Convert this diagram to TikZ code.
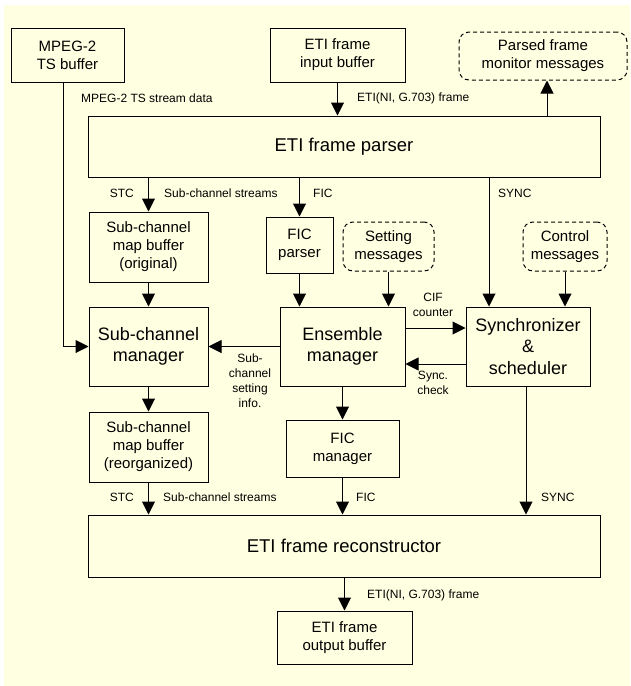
\documentclass[tikz,border=0pt]{standalone}
\usepackage{fontspec}
\setmainfont{Liberation Sans}
\usetikzlibrary{arrows.meta}
\definecolor{bgyellow}{RGB}{255,255,226}
\begin{document}
\begin{tikzpicture}[x=1pt,y=-1pt,
  blk/.style={draw, line width=1pt, inner sep=0pt, align=center, font=\fontsize{15}{18}\selectfont},
  bigblk/.style={blk, font=\fontsize{18}{21.5}\selectfont},
  hugeblk/.style={blk, font=\fontsize{18.5}{22}\selectfont},
  dbox/.style={blk, dash pattern=on 4pt off 3pt, rounded corners=10pt},
  lbl/.style={inner sep=0pt, align=center, font=\fontsize{12}{15}\selectfont},
  arr/.style={line width=1pt, -{Triangle[length=13pt,width=13pt]}},
  ln/.style={line width=1pt}]
\useasboundingbox (0,0) rectangle (630,686);
\fill[white] (0,0) rectangle (630,686);
\fill[bgyellow] (4,5) rectangle (630,686);

% nodes
\node[blk, minimum width=113pt, minimum height=54pt] (mpeg) at (67.5,55) {MPEG-2\\TS buffer};
\node[blk, minimum width=135pt, minimum height=54pt] (etiin) at (337.5,55) {ETI frame\\input buffer};
\node[dbox, minimum width=168pt, minimum height=48pt] (parsed) at (543,56) {Parsed frame\\monitor messages};
\node[hugeblk, minimum width=512pt, minimum height=61pt] (parser) at (344,146.5) {ETI frame parser};
\node[blk, minimum width=119pt, minimum height=70pt] (smbo) at (148.5,247) {Sub-channel\\map buffer\\(original)};
\node[blk, minimum width=67pt, minimum height=56pt] (ficp) at (299.5,245) {FIC\\parser};
\node[dbox, minimum width=91pt, minimum height=49pt] (setmsg) at (388.5,246.5) {Setting\\messages};
\node[dbox, minimum width=84pt, minimum height=49pt] (ctrlmsg) at (565,246.5) {Control\\messages};
\node[bigblk, minimum width=119pt, minimum height=79pt] (scm) at (148.5,346.5) {Sub-channel\\manager};
\node[bigblk, minimum width=125pt, minimum height=79pt] (ens) at (342.5,346.5) {Ensemble\\manager};
\node[bigblk, minimum width=124pt, minimum height=79pt] (sync) at (528,346.5) {Synchronizer\\\&\\scheduler};
\node[blk, minimum width=119pt, minimum height=70pt] (smbr) at (148.5,447) {Sub-channel\\map buffer\\(reorganized)};
\node[blk, minimum width=113pt, minimum height=57pt] (ficm) at (342.5,448.5) {FIC\\manager};
\node[hugeblk, minimum width=512pt, minimum height=62pt] (recon) at (344,546) {ETI frame reconstructor};
\node[blk, minimum width=135pt, minimum height=53pt] (etiout) at (344.5,637.5) {ETI frame\\output buffer};

% connectors
\draw[arr] ([xshift=-4.5pt]mpeg.south) |- (scm.west);
\draw[arr] (etiin.south) -- (etiin.south |- parser.north);
\draw[arr] ([xshift=4pt]parsed.south |- parser.north) -- ([xshift=4pt]parsed.south);
\draw[arr] (smbo.north |- parser.south) -- (smbo.north);
\draw[arr] (ficp.north |- parser.south) -- (ficp.north);
\draw[arr] ([xshift=-39pt]sync.north |- parser.south) -- ([xshift=-39pt]sync.north);
\draw[arr] (smbo.south) -- (scm.north);
\draw[arr] (ficp.south) -- (ficp.south |- ens.north);
\draw[arr] (setmsg.south) -- (setmsg.south |- ens.north);
\draw[arr] (ctrlmsg.south) -- (ctrlmsg.south |- sync.north);
\draw[arr] ([yshift=18.5pt]ens.east) -- ([yshift=18.5pt]ens.east -| sync.west);
\draw[arr] ([yshift=-17.5pt]sync.west) -- ([yshift=-17.5pt]sync.west -| ens.east);
\draw[arr] (ens.west) -- (scm.east);
\draw[arr] (scm.south) -- (smbr.north);
\draw[arr] (smbr.south) -- (smbr.south |- recon.north);
\draw[arr] (ens.south) -- (ficm.north);
\draw[arr] (ficm.south) -- (ficm.south |- recon.north);
\draw[arr] ([xshift=-2pt]sync.south) -- ([xshift=-2pt]sync.south |- recon.north);
\draw[arr] (recon.south -| etiout.north) -- (etiout.north);

% labels
\node[lbl, anchor=west] (l1) at (81,98) {MPEG-2 TS stream data};
\node[lbl, anchor=west] (l2) at (357,98) {ETI(NI, G.703) frame};
\node[lbl, anchor=east] (l3) at (134,193) {STC};
\node[lbl, anchor=west] (l4) at (164,193) {Sub-channel streams};
\node[lbl, anchor=west] (l5) at (313,193) {FIC};
\node[lbl, anchor=west] (l6) at (498,193) {SYNC};
\node[lbl] (l7) at (433,305) {CIF\\counter};
\node[lbl] (l8) at (433,383) {Sync.\\check};
\node[lbl] (l9) at (250,380.5) {Sub-\\channel\\setting\\info.};
\node[lbl, anchor=east] (l10) at (134,497) {STC};
\node[lbl, anchor=west] (l11) at (163,497) {Sub-channel streams};
\node[lbl, anchor=west] (l12) at (356,497) {FIC};
\node[lbl, anchor=west] (l13) at (541,497) {SYNC};
\node[lbl, anchor=west] (l14) at (367,595) {ETI(NI, G.703) frame};
\end{tikzpicture}
\end{document}
